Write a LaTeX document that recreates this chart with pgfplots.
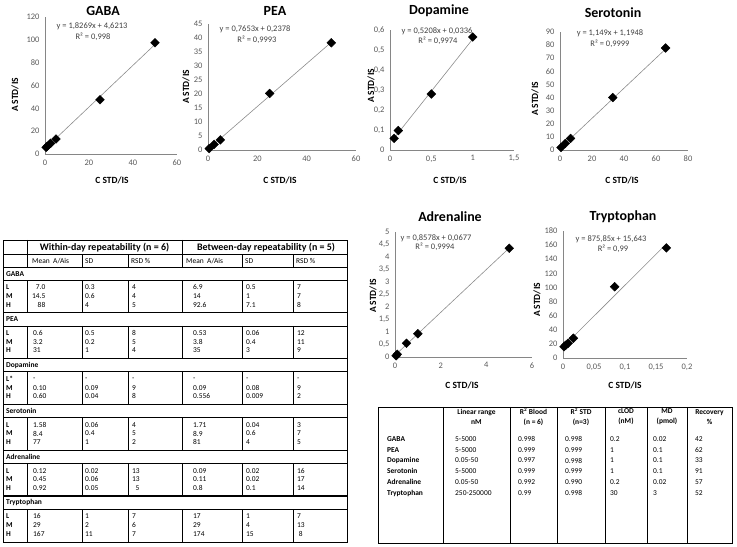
\documentclass[border=0pt]{standalone}
\usepackage{pgfplots}
\pgfplotsset{compat=1.18}
\usepackage{fontspec}
\setmainfont{Carlito}
\definecolor{axgray}{HTML}{868686}
\definecolor{tickgray}{HTML}{595959}
\definecolor{eqgray}{HTML}{404040}
\definecolor{trendgray}{HTML}{8C8C8C}
\pgfplotsset{
  calib/.style={
    scale only axis, anchor=south west, clip=false,
    axis lines*=left,
    axis line style={axgray, line width=0.7bp},
    major tick length=0pt,
    tick label style={font=\fontsize{8.5}{9}\selectfont, text=tickgray},
    /pgf/number format/assume math mode=true,
    /pgf/number format/use comma,
    /pgf/number format/fixed,
    /pgf/number format/precision=2,
    /pgf/number format/1000 sep={},
    scaled ticks=false,
    xticklabel style={yshift=-2bp},
    yticklabel style={xshift=-2bp},
  },
  pts/.style={only marks, mark=square*, mark options={rotate=45}, mark size=3.1bp, black},
  trend/.style={no marks, trendgray, line width=0.6bp},
}
\newcommand{\tf}{\fontsize{7.5}{9}\selectfont}
\begin{document}
\begin{tikzpicture}
\path[use as bounding box] (0bp,0bp) rectangle (737bp,547bp);
% GABA
\begin{axis}[calib, at={(45bp,393bp)}, width=132bp, height=137bp,
  xmin=0,xmax=60,ymin=0,ymax=120, xtick={0,20,40,60}, ytick={0,20,...,120}]
\addplot[trend] coordinates {(0.5,5.535) (50,95.97)};
\addplot[pts] coordinates {(0.5,5.8) (1,6.8) (2.5,9.3) (5,13.1) (25,47.5) (50,97.5)};
\end{axis}
% PEA
\begin{axis}[calib, at={(208bp,397bp)}, width=148bp, height=126bp,
  xmin=0,xmax=60,ymin=0,ymax=45, xtick={0,20,40,60}, ytick={0,5,...,45}]
\addplot[trend] coordinates {(0.5,0.62) (50,38.50)};
\addplot[pts] coordinates {(0.5,0.5) (2.5,2.0) (5,3.6) (25,20.2) (50,38.3)};
\end{axis}
% Dopamine
\begin{axis}[calib, at={(390bp,397bp)}, width=124bp, height=120bp,
  xmin=0,xmax=1.5,ymin=0,ymax=0.6, xtick={0,0.5,1,1.5}, ytick={0,0.1,0.2,0.3,0.4,0.5,0.6}]
\addplot[trend] coordinates {(0.05,0.0596) (1,0.5544)};
\addplot[pts] coordinates {(0.05,0.058) (0.1,0.097) (0.5,0.28) (1,0.565)};
\end{axis}
% Serotonin
\begin{axis}[calib, at={(560bp,397bp)}, width=128bp, height=118bp,
  xmin=0,xmax=80,ymin=0,ymax=90, xtick={0,20,40,60,80}, ytick={0,10,...,90}]
\addplot[trend] coordinates {(0.66,1.953) (66,77.03)};
\addplot[pts] coordinates {(0.66,1.9) (3.3,5.0) (6.6,8.8) (33,40) (66,77.8)};
\end{axis}
% Adrenaline
\begin{axis}[calib, at={(395bp,190bp)}, width=137bp, height=125bp,
  xmin=0,xmax=6,ymin=0,ymax=5, xtick={0,2,4,6}, ytick={0,0.5,1,1.5,2,2.5,3,3.5,4,4.5,5}]
\addplot[trend] coordinates {(0.05,0.1106) (5,4.3567)};
\addplot[pts] coordinates {(0.05,0.05) (0.1,0.11) (0.5,0.55) (1,0.93) (5,4.35)};
\end{axis}
% Tryptophan
\begin{axis}[calib, at={(563bp,189bp)}, width=124bp, height=127bp,
  xmin=0,xmax=0.2,ymin=0,ymax=180, xtick={0,0.05,0.1,0.15,0.2}, ytick={0,20,...,180}]
\addplot[trend] coordinates {(0.0017,17.13) (0.1667,161.65)};
\addplot[pts] coordinates {(0.0017,16) (0.0042,18) (0.0083,21) (0.0167,28) (0.0833,101) (0.1667,156)};
\end{axis}

\begin{scope}[x=1bp, y=-1bp, shift={(0bp,547bp)}]
% titles
\begin{scope}[every node/.style={font=\bfseries\fontsize{14}{16}\selectfont}]
\node at (103,11) {GABA};
\node at (275,11) {PEA};
\node at (439,11) {Dopamine};
\node at (613,13) {Serotonin};
\node at (450,217) {Adrenaline};
\node at (623,217) {Tryptophan};
\end{scope}
% axis labels
\begin{scope}[every node/.style={font=\bfseries\fontsize{9.5}{11}\selectfont}]
\node[rotate=90] at (15,95) {A STD/IS};
\node[rotate=90] at (186,87) {A STD/IS};
\node[rotate=90] at (371,86) {A STD/IS};
\node[rotate=90] at (535,99) {A STD/IS};
\node[rotate=90] at (373,296) {A STD/IS};
\node[rotate=90] at (537,300) {A STD/IS};
\node at (112,180) {C STD/IS};
\node at (280,180) {C STD/IS};
\node at (450,180) {C STD/IS};
\node at (622,180) {C STD/IS};
\node at (462,385) {C STD/IS};
\node at (625,385) {C STD/IS};
\end{scope}
% equations
\begin{scope}[every node/.style={font=\fontsize{8.5}{10}\selectfont, text=eqgray}]
\node at (92,26) {y = 1,8269x + 4,6213};
\node at (93,37) {R² = 0,998};
\node at (255,29) {y = 0,7653x + 0,2378};
\node at (257,40) {R² = 0,9993};
\node at (437,31) {y = 0,5208x + 0,0336};
\node at (438,41) {R² = 0,9974};
\node at (610,33) {y = 1,149x + 1,1948};
\node at (610,44) {R² = 0,9999};
\node at (436,238) {y = 0,8578x + 0,0677};
\node at (435,247) {R² = 0,9994};
\node at (611,239) {y = 875,85x + 15,643};
\node at (613,249) {R² = 0,99};
\end{scope}

% ---------- left table ----------
\draw[line width=0.9bp] (3,240) rectangle (347,542);
\draw[line width=0.6bp] (3,254.3) -- (347,254.3);
\draw[line width=0.6bp] (3,267) -- (347,267);
\draw[line width=0.6bp] (27,240) -- (27,267) (182,240) -- (182,267);
\foreach \xx in {82,128,242,293} \draw[line width=0.6bp] (\xx,254.3) -- (\xx,267);
\foreach \k in {0,...,5} {
  \pgfmathsetmacro\sk{267+45.83*\k}
  \pgfmathsetmacro\gl{\sk+13.1}
  \pgfmathsetmacro\ge{\sk+45.83}
  \draw[line width=0.6bp] (3,\gl) -- (347,\gl);
  \foreach \xx in {27,82,128,182,242,293} \draw[line width=0.6bp] (\xx,\gl) -- (\xx,\ge);
}
\foreach \k in {1,...,5} {
  \pgfmathsetmacro\sk{267+45.83*\k}
  \draw[line width=1.3bp] (3,\sk) -- (347,\sk);
}
\node[font=\bfseries\fontsize{10}{12}\selectfont] at (104.5,247.3) {Within-day repeatability (n = 6)};
\node[font=\bfseries\fontsize{10}{12}\selectfont] at (266,247.3) {Between-day repeatability (n = 5)};
\begin{scope}[every node/.style={font=\tf, anchor=west, inner sep=0pt}]
\node at (32,260.8) {Mean\ \ A/Ais};
\node at (85,260.8) {SD};
\node at (131,260.8) {RSD \%};
\node at (186,260.8) {Mean\ \ A/Ais};
\node at (245,260.8) {SD};
\node at (296,260.8) {RSD \%};
\foreach \k/\nm in {0/GABA,1/PEA,2/Dopamine,3/Serotonin,4/Adrenaline,5/Tryptophan} {
  \pgfmathsetmacro\yy{267+45.83*\k+6.6}
  \node[font=\tf\bfseries] at (6,\yy) {\nm};
}
\foreach \k/\r/\lab/\a/\b/\c/\d/\e/\f in {
  0/0/L/7.0/0.3/4/6.9/0.5/7, 0/1/M/14.5/0.6/4/14/1/7, 0/2/H/88/4/5/92.6/7.1/8,
  1/0/L/0.6/0.5/8/0.53/0.06/12, 1/1/M/3.2/0.2/5/3.8/0.4/11, 1/2/H/31/1/4/35/3/9,
  2/0/L*/-/-/-/-/-/-, 2/1/M/0.10/0.09/9/0.09/0.08/9, 2/2/H/0.60/0.04/8/0.556/0.009/2,
  3/0/L/1.58/0.06/4/1.71/0.04/3, 3/1/M/8.4/0.4/5/8.9/0.6/7, 3/2/H/77/1/2/81/4/5,
  4/0/L/0.12/0.02/13/0.09/0.02/16, 4/1/M/0.45/0.06/13/0.11/0.02/17, 4/2/H/0.92/0.05/\ \ 5/0.8/0.1/14,
  5/0/L/16/1/7/17/1/7, 5/1/M/29/2/6/29/4/13, 5/2/H/167/11/7/174/15/\ 8} {
  \pgfmathsetmacro\yy{267+45.83*\k+20.3+8.7*\r}
  \node[font=\tf\bfseries] at (6,\yy) {\lab};
  \ifnum\k=0
    \node[anchor=east] at (45.5,\yy) {\a};
  \else
    \node at (33,\yy) {\a};
  \fi
  \node at (85,\yy) {\b};
  \node at (132,\yy) {\c};
  \node at (193,\yy) {\d};
  \node at (246,\yy) {\e};
  \node at (297,\yy) {\f};
}
\end{scope}

% ---------- right table ----------
\draw[line width=0.9bp] (378,407) rectangle (732,543);
\foreach \xx in {443,510,557,605,647,687} \draw[line width=0.6bp] (\xx,407) -- (\xx,543);
\begin{scope}[every node/.style={font=\tf\bfseries, align=center, inner sep=0pt}]
\node at (476.5,417) {Linear range\\[1pt]nM};
\node at (533.5,417) {R\textsuperscript{2} Blood\\[1pt](n = 6)};
\node at (581,417) {R\textsuperscript{2} STD\\[1pt](n=3)};
\node at (626,417) {cLOD\\[1pt](nM)};
\node at (667,417) {MD\\[1pt](pmol)};
\node at (709.5,417) {Recovery\\[1pt]\%};
\end{scope}
\begin{scope}[every node/.style={font=\tf, anchor=west, inner sep=0pt}]
\foreach \i/\nm/\a/\b/\c/\d/\e/\f in {
  0/GABA/5-5000/0.998/0.998/0.2/0.02/42,
  1/PEA/5-5000/0.999/0.999/1/0.1/62,
  2/Dopamine/0.05-50/0.997/0.998/1/0.1/33,
  3/Serotonin/5-5000/0.999/0.999/1/0.1/91,
  4/Adrenaline/0.05-50/0.992/0.990/0.2/0.02/57,
  5/Tryptophan/250-250000/0.99/0.998/30/3/52} {
  \pgfmathsetmacro\yy{439+10.8*\i}
  \node[font=\tf\bfseries] at (387,\yy) {\nm};
  \node at (455,\yy) {\a};
  \node at (518,\yy) {\b};
  \node at (565,\yy) {\c};
  \node at (610,\yy) {\d};
  \node at (653,\yy) {\e};
  \node at (695,\yy) {\f};
}
\end{scope}
\end{scope}
\end{tikzpicture}
\end{document}
